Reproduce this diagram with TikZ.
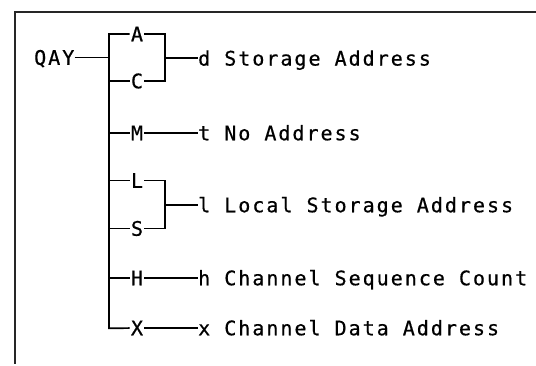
\documentclass[tikz,border=0pt]{standalone}
\usepackage{fontspec}
\usepackage{tikz}
\usetikzlibrary{calc,positioning}
\newfontfamily\chartfont{DejaVu Sans Mono}[LetterSpace=10.0,FakeBold=0.6]
\tikzset{%
	wire/.style   = {line width=1.7pt, line join=miter}, % connector
	frame/.style  = {line width=2.4pt, black!85},
	tag/.style    = {inner sep=1.2pt, text height=14.5pt, text depth=0pt, font=\chartfont\fontsize{20}{22}\selectfont}, % letter on a branch
	lbl/.style    = {inner sep=0pt, text height=14.5pt, text depth=0pt, font=\chartfont\fontsize{20}{22}\selectfont}, % text at the end
}
\begin{document}
\begin{tikzpicture}[x=10pt,y=-10pt]
	\useasboundingbox (0,0) rectangle (53.6,36.5);
	\draw[frame] (53.6,1.17) -- (1.5,1.17) -- (1.5,36.4);
	\node[lbl,anchor=east] (qay) at (7.45,5.75) {QAY};
	\coordinate (trunk) at (10.9,3.5);
	\coordinate (corner) at (10.9,32.83);
	\coordinate (br1) at (16.5,5.83);
	\coordinate (br2) at (16.5,20.5);
	\node[tag] (a) at (13.7,3.4) {A};
	\node[tag] (c) at (13.7,8.1) {C};
	\node[tag] (m) at (13.7,13.3) {M};
	\node[tag] (l) at (13.7,18.05) {L};
	\node[tag] (s) at (13.7,22.85) {S};
	\node[tag] (h) at (13.7,27.8) {H};
	\node[tag] (x) at (13.7,32.8) {X};
	\node[lbl,anchor=west] (dlab) at (19.8,5.83) {d Storage Address};
	\node[lbl,anchor=west] (tlab) at (19.8,13.3) {t No Address};
	\node[lbl,anchor=west] (llab) at (19.8,20.5) {l Local Storage Address};
	\node[lbl,anchor=west] (hlab) at (19.8,27.8) {h Channel Sequence Count};
	\node[lbl,anchor=west] (xlab) at (19.8,32.8) {x Channel Data Address};
	\draw[wire] (a) -- (a -| trunk) -- (corner) -- (x);
	\draw[wire] (qay) -- (qay -| trunk);
	\draw[wire] (c) -- (c -| trunk);
	\draw[wire] (m) -- (m -| trunk);
	\draw[wire] (l) -- (l -| trunk);
	\draw[wire] (s) -- (s -| trunk);
	\draw[wire] (h) -- (h -| trunk);
	\draw[wire] (a) -| (br1);
	\draw[wire] (c) -| (br1);
	\draw[wire] (br1) -- (dlab);
	\draw[wire] (l) -| (br2);
	\draw[wire] (s) -| (br2);
	\draw[wire] (br2) -- (llab);
	\draw[wire] (m) -- (tlab);
	\draw[wire] (h) -- (hlab);
	\draw[wire] (x) -- (xlab);
\end{tikzpicture}
\end{document}
